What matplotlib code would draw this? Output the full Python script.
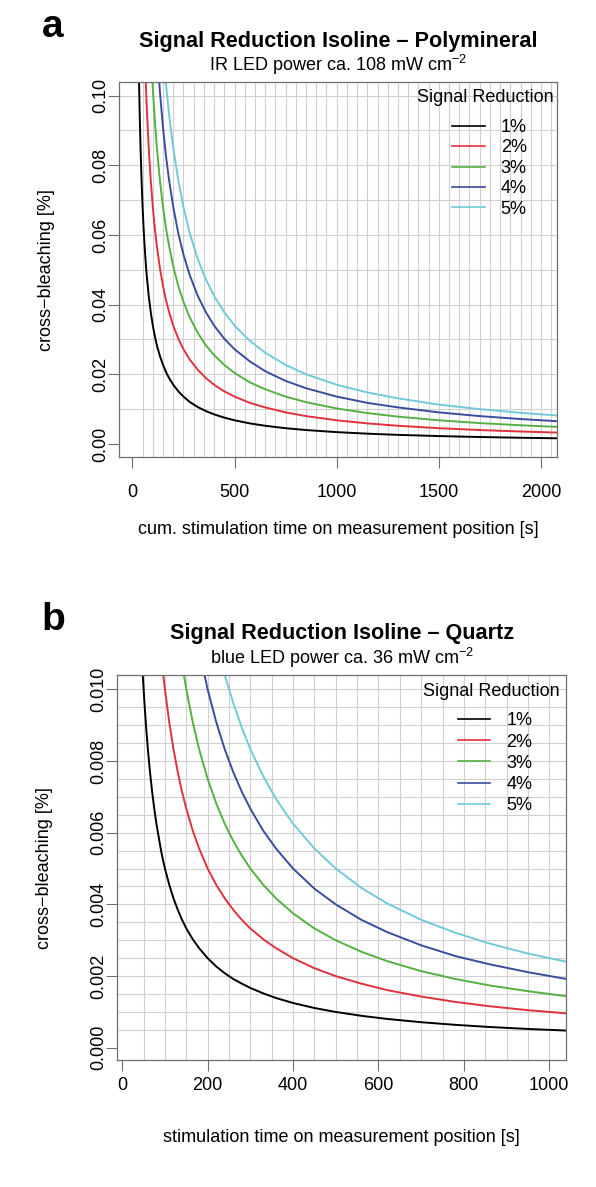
import matplotlib
matplotlib.use("Agg")
import matplotlib.pyplot as plt

plt.rcParams['font.family'] = ['Liberation Sans', 'DejaVu Sans']
plt.rcParams['mathtext.fontset'] = 'custom'
plt.rcParams['mathtext.rm'] = 'Liberation Sans'
plt.rcParams['mathtext.it'] = 'Liberation Sans:italic'
plt.rcParams['mathtext.bf'] = 'Liberation Sans:bold'

W, H = 596, 1187

# ---- data ----
labels = ['1%', '2%', '3%', '4%', '5%']
colors = ['#000000', '#E0323C', '#55B043', '#3A4C9E', '#72C9D8']

# panel a: polymineral, IR stimulation
t_a = [30, 33, 36, 40, 45, 50, 55, 60, 65, 70, 80, 90, 100, 110, 120, 135, 150,
       165, 180, 200, 225, 250, 280, 320, 360, 400, 450, 500, 575, 650, 750,
       850, 1000, 1150, 1300, 1500, 1700, 1900, 2080]
a_1 = [0.113, 0.103, 0.0944, 0.085, 0.0756, 0.068, 0.0618, 0.0567, 0.0523, 0.0486,
       0.0425, 0.0378, 0.034, 0.0309, 0.0283, 0.0252, 0.0227, 0.0206, 0.0189, 0.017,
       0.0151, 0.0136, 0.0121, 0.0106, 0.00944, 0.0085, 0.00756, 0.0068, 0.00591,
       0.00523, 0.00453, 0.004, 0.0034, 0.00296, 0.00262, 0.00227, 0.002, 0.00179, 0.00163]
a_2 = [0.227, 0.206, 0.189, 0.170, 0.151, 0.136, 0.124, 0.113, 0.105, 0.0971,
       0.085, 0.0756, 0.068, 0.0618, 0.0567, 0.0504, 0.0453, 0.0412, 0.0378, 0.034,
       0.0302, 0.0272, 0.0243, 0.0213, 0.0189, 0.017, 0.0151, 0.0136, 0.0118,
       0.0105, 0.00907, 0.008, 0.0068, 0.00591, 0.00523, 0.00453, 0.004, 0.00358, 0.00327]
a_3 = [0.340, 0.309, 0.283, 0.255, 0.227, 0.204, 0.185, 0.170, 0.157, 0.146,
       0.128, 0.113, 0.102, 0.0927, 0.085, 0.0756, 0.068, 0.0618, 0.0567, 0.051,
       0.0453, 0.0408, 0.0364, 0.0319, 0.0283, 0.0255, 0.0227, 0.0204, 0.0177,
       0.0157, 0.0136, 0.012, 0.0102, 0.00887, 0.00785, 0.0068, 0.006, 0.00537, 0.0049]
a_4 = [0.453, 0.412, 0.378, 0.340, 0.302, 0.272, 0.247, 0.227, 0.209, 0.194,
       0.170, 0.151, 0.136, 0.124, 0.113, 0.101, 0.0907, 0.0824, 0.0756, 0.068,
       0.0604, 0.0544, 0.0486, 0.0425, 0.0378, 0.034, 0.0302, 0.0272, 0.0237,
       0.0209, 0.0181, 0.016, 0.0136, 0.0118, 0.0105, 0.00907, 0.008, 0.00716, 0.00654]
a_5 = [0.567, 0.515, 0.472, 0.425, 0.378, 0.340, 0.309, 0.283, 0.262, 0.243,
       0.213, 0.189, 0.170, 0.155, 0.142, 0.126, 0.113, 0.103, 0.0944, 0.085,
       0.0756, 0.068, 0.0607, 0.0531, 0.0472, 0.0425, 0.0378, 0.034, 0.0296,
       0.0262, 0.0227, 0.020, 0.017, 0.0148, 0.0131, 0.0113, 0.010, 0.00895, 0.00817]

# panel b: quartz, blue stimulation
t_b = [45, 48, 52, 56, 60, 65, 70, 75, 80, 90, 95, 100, 110, 120, 130, 140, 150,
       165, 180, 200, 220, 240, 260, 280, 300, 330, 360, 400, 450, 500, 560, 620,
       700, 780, 860, 950, 1040]
b_1 = [0.0111, 0.0104, 0.00962, 0.00893, 0.00833, 0.00769, 0.00714, 0.00667, 0.00625,
       0.00556, 0.00526, 0.005, 0.00455, 0.00417, 0.00385, 0.00357, 0.00333, 0.00303,
       0.00278, 0.0025, 0.00227, 0.00208, 0.00192, 0.00179, 0.00167, 0.00152, 0.00139,
       0.00125, 0.00111, 0.001, 0.000893, 0.000806, 0.000714, 0.000641, 0.000581,
       0.000526, 0.000481]
b_2 = [0.0222, 0.0208, 0.0192, 0.0179, 0.0167, 0.0154, 0.0143, 0.0133, 0.0125,
       0.0111, 0.0105, 0.01, 0.00909, 0.00833, 0.00769, 0.00714, 0.00667, 0.00606,
       0.00556, 0.005, 0.00455, 0.00417, 0.00385, 0.00357, 0.00333, 0.00303, 0.00278,
       0.0025, 0.00222, 0.002, 0.00179, 0.00161, 0.00143, 0.00128, 0.00116, 0.00105,
       0.000962]
b_3 = [0.0333, 0.0313, 0.0288, 0.0268, 0.025, 0.0231, 0.0214, 0.02, 0.0188,
       0.0167, 0.0158, 0.015, 0.0136, 0.0125, 0.0115, 0.0107, 0.01, 0.00909,
       0.00833, 0.0075, 0.00682, 0.00625, 0.00577, 0.00536, 0.005, 0.00455, 0.00417,
       0.00375, 0.00333, 0.003, 0.00268, 0.00242, 0.00214, 0.00192, 0.00174, 0.00158,
       0.00144]
b_4 = [0.0444, 0.0417, 0.0385, 0.0357, 0.0333, 0.0308, 0.0286, 0.0267, 0.025,
       0.0222, 0.0211, 0.02, 0.0182, 0.0167, 0.0154, 0.0143, 0.0133, 0.0121,
       0.0111, 0.01, 0.00909, 0.00833, 0.00769, 0.00714, 0.00667, 0.00606, 0.00556,
       0.005, 0.00444, 0.004, 0.00357, 0.00323, 0.00286, 0.00256, 0.00233, 0.00211,
       0.00192]
b_5 = [0.0556, 0.0521, 0.0481, 0.0446, 0.0417, 0.0385, 0.0357, 0.0333, 0.0313,
       0.0278, 0.0263, 0.025, 0.0227, 0.0208, 0.0192, 0.0179, 0.0167, 0.0152,
       0.0139, 0.0125, 0.0114, 0.0104, 0.00962, 0.00893, 0.00833, 0.00758, 0.00694,
       0.00625, 0.00556, 0.005, 0.00446, 0.00403, 0.00357, 0.00321, 0.00291, 0.00263,
       0.0024]

xticks_a = [0, 500, 1000, 1500, 2000]
yticks_a = [0.00, 0.02, 0.04, 0.06, 0.08, 0.10]
xticks_b = [0, 200, 400, 600, 800, 1000]
yticks_b = [0.000, 0.002, 0.004, 0.006, 0.008, 0.010]


def box(l, t, r, b):
    return [l / W, 1 - b / H, (r - l) / W, (b - t) / H]


def fx(x, y):
    return x / W, 1 - y / H


fig = plt.figure(figsize=(W / 100, H / 100), dpi=100)

FS = 13
GRID = '#d0d0d0'
FRAME = '#6e6e6e'


def panel(rect, t, series, xlim, ylim, xticks, yticks, yfmt, vgrid, hgrid,
          xpad, ypad, leg_xy, leg_sp):
    ax = fig.add_axes(rect)
    for g in vgrid:
        ax.axvline(g, color=GRID, lw=0.8, zorder=0)
    for g in hgrid:
        ax.axhline(g, color=GRID, lw=0.8, zorder=0)
    for ys, c, lab in zip(series, colors, labels):
        ax.plot(t, ys, color=c, lw=1.4, label=lab, zorder=2)
    ax.set_xlim(*xlim)
    ax.set_ylim(*ylim)
    ax.set_xticks(xticks)
    ax.set_yticks(yticks)
    ax.set_yticklabels([yfmt % v for v in yticks])
    ax.tick_params(length=8, width=0.8, color=FRAME, labelsize=FS)
    ax.tick_params(axis='x', pad=xpad)
    ax.tick_params(axis='y', pad=ypad, labelrotation=90)
    for lbl in ax.get_yticklabels():
        lbl.set_va('center')
    for s in ax.spines.values():
        s.set_color(FRAME)
        s.set_linewidth(0.9)
    leg = ax.legend(loc='upper left', bbox_to_anchor=fx(*leg_xy),
                    bbox_transform=fig.transFigure, borderaxespad=0, borderpad=0,
                    frameon=False, fontsize=FS, handlelength=1.8,
                    handletextpad=0.9, labelspacing=leg_sp)
    for ln in leg.get_lines():
        ln.set_linewidth(1.2)
    return ax


# panel a
ax_a = panel(box(119.3, 82.3, 557.3, 456.7), t_a, [a_1, a_2, a_3, a_4, a_5],
             (-64, 2080), (-0.00365, 0.1038), xticks_a, yticks_a, '%.2f',
             range(50, 2051, 50), [i / 100 for i in range(1, 11)],
             12, -1, (452, 119), 0.19)
fig.text(*fx(485, 97), 'Signal Reduction', ha='center', va='center', fontsize=FS)
fig.text(*fx(338, 530), 'cum. stimulation time on measurement position [s]',
         ha='center', va='center', fontsize=FS)
fig.text(*fx(47, 270), 'cross\u2212bleaching [%]', ha='center', va='center',
         rotation=90, fontsize=FS)
fig.text(*fx(338, 41), 'Signal Reduction Isoline \u2013 Polymineral', ha='center',
         va='center', fontsize=15.6, fontweight='bold')
fig.text(*fx(338, 65), 'IR LED power ca. 108 mW cm$^{-2}$', ha='center',
         va='center', fontsize=FS)
fig.text(*fx(53, 27), 'a', ha='center', va='center', fontsize=28, fontweight='bold')

# panel b
ax_b = panel(box(116.7, 675, 565.5, 1060), t_b, [b_1, b_2, b_3, b_4, b_5],
             (-13, 1038), (-0.00034, 0.0104), xticks_b, yticks_b, '%.3f',
             range(50, 1001, 50), [i * 0.0005 for i in range(1, 21)],
             4, -1, (457.7, 712.4), 0.23)
fig.text(*fx(491, 692), 'Signal Reduction', ha='center', va='center', fontsize=FS)
fig.text(*fx(341, 1138), 'stimulation time on measurement position [s]',
         ha='center', va='center', fontsize=FS)
fig.text(*fx(45, 868), 'cross\u2212bleaching [%]', ha='center', va='center',
         rotation=90, fontsize=FS)
fig.text(*fx(342, 633), 'Signal Reduction Isoline \u2013 Quartz', ha='center',
         va='center', fontsize=15.6, fontweight='bold')
fig.text(*fx(342, 658), 'blue LED power ca. 36 mW cm$^{-2}$', ha='center',
         va='center', fontsize=FS)
fig.text(*fx(53, 620), 'b', ha='center', va='center', fontsize=28, fontweight='bold')

fig.savefig('out.png', dpi=100)
